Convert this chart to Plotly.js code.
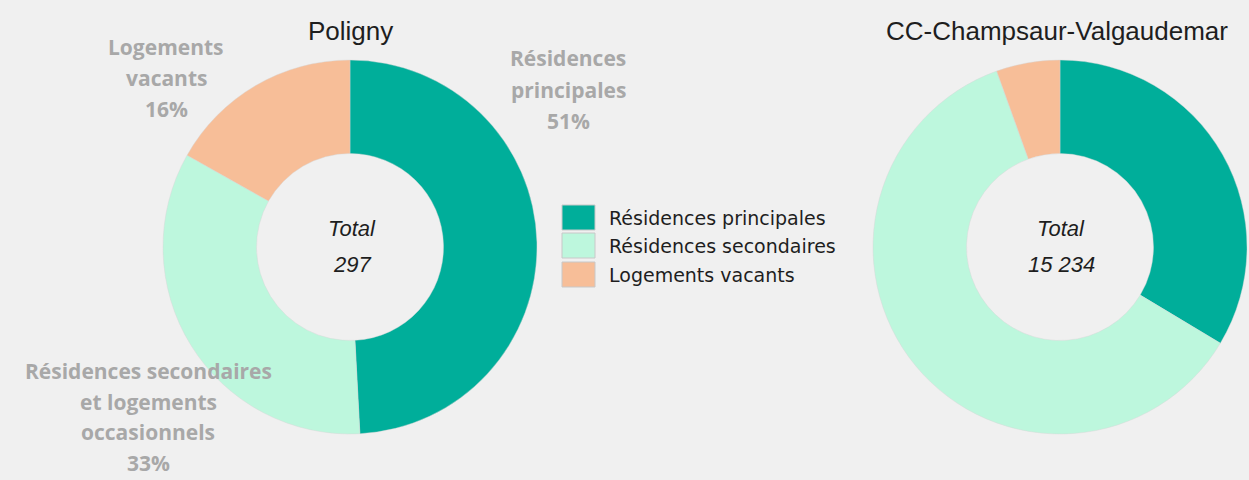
<!DOCTYPE html>
<html>
<head>
<meta charset="utf-8">
<script src="https://cdn.plot.ly/plotly-3.0.1.min.js"></script>
<style>
html,body{margin:0;padding:0;background:#F0F0F0;}
#chart{width:1249px;height:480px;}
</style>
</head>
<body>
<div id="chart"></div>
<script>
// ---- data ----
var categories = ["Résidences principales", "Résidences secondaires", "Logements vacants"];
var colors = ["#00AE9A", "#BDF7DD", "#F7BE98"];
var territories = ["Poligny", "CC-Champsaur-Valgaudemar"];
var poligny = [146, 101, 50];
var champsaur = [5119, 9277, 838];
var totals = ["297", "15 234"];
var polignyLabels = [
  ["Résidences", "principales", "51%"],
  ["Résidences secondaires", "et logements", "occasionnels", "33%"],
  ["Logements", "vacants", "16%"]
];

var W = 1249, H = 480;
function px(x){ return x / W; }
function py(y){ return 1 - y / H; }

var pieCommon = {
  type: "pie",
  labels: categories,
  hole: 0.5,
  sort: false,
  direction: "clockwise",
  rotation: 0,
  textinfo: "none",
  hoverinfo: "label+value+percent",
  showlegend: false,
  marker: { colors: colors, line: { color: "rgba(215,215,215,0.7)", width: 0.6 } }
};

var traces = [
  Object.assign({}, pieCommon, {
    values: poligny, name: territories[0],
    domain: { x: [px(163), px(537)], y: [py(434), py(60)] }
  }),
  Object.assign({}, pieCommon, {
    values: champsaur, name: territories[1],
    domain: { x: [px(873), px(1247)], y: [py(434), py(60)] }
  })
];

var grayFont = { family: "Open Sans, sans-serif", size: 21, color: "#A8A8A8", weight: "bold" };
var darkFont = { family: "Liberation Sans, Arial, sans-serif", size: 26, color: "#1E1E1E" };
var centerFont = { family: "Liberation Sans, Arial, sans-serif", size: 22, color: "#1E1E1E", style: "italic" };
var legendFont = { family: "DejaVu Sans, sans-serif", size: 19, color: "#1E1E1E" };

var annotations = [
  { x: px(350), y: py(31), text: territories[0], font: darkFont },
  { x: px(1057), y: py(31), text: territories[1], font: darkFont },
  { x: px(352), y: py(228), text: "Total", font: centerFont },
  { x: px(352), y: py(264), text: totals[0], font: centerFont },
  { x: px(1061), y: py(228), text: "Total", font: centerFont },
  { x: px(1061), y: py(264), text: totals[1], font: centerFont }
];

// outside labels, one annotation per line with fixed line spacing
var labelAnchors = [[568, 58, 31.5], [148, 371, 30.5], [166, 47, 31]];
polignyLabels.forEach(function(lines, i){
  lines.forEach(function(t, j){
    annotations.push({ x: px(labelAnchors[i][0]), y: py(labelAnchors[i][1] + j * labelAnchors[i][2]), text: t, font: grayFont });
  });
});

annotations = annotations.map(function(a){
  return Object.assign({ xref: "paper", yref: "paper", showarrow: false, xanchor: "center", yanchor: "middle", align: "center" }, a);
});

var shapes = [];
var legendTop = [205, 233, 262];
categories.forEach(function(c, i){
  shapes.push({
    type: "rect", xref: "paper", yref: "paper",
    x0: px(562), x1: px(595), y0: py(legendTop[i] + 25), y1: py(legendTop[i]),
    fillcolor: colors[i], line: { color: "#C8C8C8", width: 1 }
  });
  annotations.push({
    xref: "paper", yref: "paper", showarrow: false,
    x: px(607), y: py(legendTop[i] + 13), xanchor: "left", yanchor: "middle",
    text: c, font: legendFont
  });
});

var layout = {
  width: W, height: H,
  margin: { l: 0, r: 0, t: 0, b: 0 },
  paper_bgcolor: "#F0F0F0",
  plot_bgcolor: "#F0F0F0",
  showlegend: false,
  annotations: annotations,
  shapes: shapes
};

Plotly.newPlot("chart", traces, layout, { displayModeBar: false, staticPlot: true });
</script>
</body>
</html>
